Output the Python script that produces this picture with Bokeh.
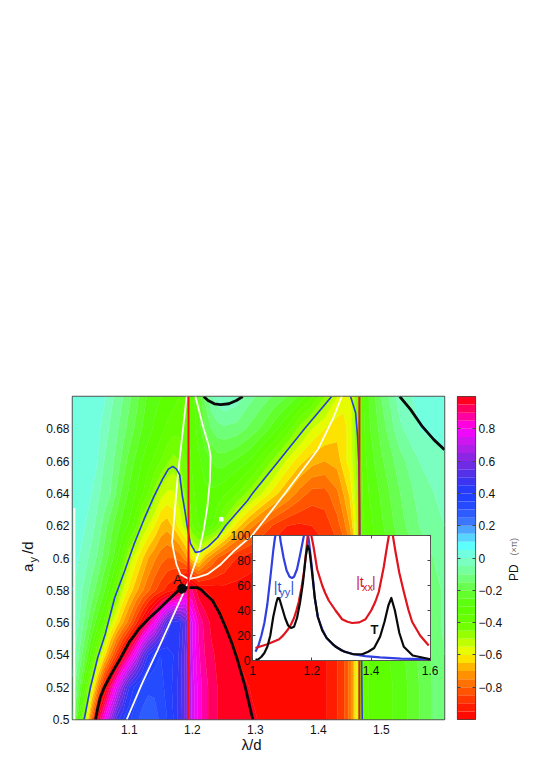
from bokeh.plotting import figure
from bokeh.models import (Range1d, LinearAxis, FixedTicker, CustomJSTickFormatter, Column)
from bokeh.core.properties import value
from bokeh.embed import file_html
from bokeh.resources import INLINE

# ---------- phase-difference field (unwrapped: below -1 reads as PD+2)
COLS = [1.01,1.02,1.03,1.04,1.05,1.06,1.07,1.08,1.09,1.10,1.11,1.12,1.13,1.14,1.15,1.16,1.17,1.18,1.19,1.20,1.21,1.22,1.23,1.24,1.25,
        1.27,1.29,1.31,1.33,1.35,1.37,1.39,1.41,1.43,1.44,1.45,1.455,1.46,1.465,1.47,1.48,1.50,1.53,1.56,1.60]
ROWS = [.50,.52,.54,.56,.58,.60,.62,.64,.66,.68,.70]
R50 = [-.1,-.3,-.52,-.8,-1.05,-1.2,-1.35,-1.52,-1.6,-1.64,-1.68,-1.72,-1.73,-1.72,-1.69,-1.65,-1.6,-1.52,-1.42,-1.28,-1.18,-1.12,-1.08,-1.05,-1.04,
       -1.02,-1.01,-.995,-.99,-.99,-.99,-.98,-.96,-.9,-.86,-.78,-.7,-.6,-.45,-.38,-.35,-.33,-.28,-.2,-.1]
R52 = [-.06,-.18,-.34,-.54,-.75,-.94,-1.1,-1.25,-1.4,-1.55,-1.62,-1.66,-1.69,-1.69,-1.67,-1.63,-1.59,-1.53,-1.42,-1.28,-1.18,-1.12,-1.08,-1.05,-1.04,
       -1.02,-1.0,-.995,-.99,-.99,-.99,-.98,-.96,-.9,-.86,-.78,-.7,-.6,-.45,-.38,-.35,-.33,-.28,-.2,-.1]
R54 = [-.03,-.1,-.2,-.32,-.47,-.62,-.75,-.88,-1.0,-1.12,-1.25,-1.42,-1.55,-1.62,-1.65,-1.63,-1.6,-1.54,-1.42,-1.26,-1.16,-1.1,-1.06,-1.04,-1.03,
       -1.0,-.995,-.99,-.99,-.99,-.99,-.98,-.96,-.9,-.86,-.78,-.7,-.6,-.45,-.38,-.35,-.32,-.27,-.19,-.1]
R56 = [-.01,-.05,-.12,-.2,-.28,-.36,-.53,-.62,-.7,-.78,-.88,-.98,-1.1,-1.2,-1.35,-1.5,-1.58,-1.56,-1.45,-1.25,-1.14,-1.08,-1.04,-1.02,-1.0,
       -.995,-.99,-.99,-.99,-.99,-.98,-.97,-.94,-.88,-.84,-.76,-.7,-.6,-.45,-.36,-.33,-.3,-.25,-.17,-.09]
R58 = [0,-.03,-.07,-.12,-.18,-.24,-.32,-.42,-.55,-.62,-.68,-.74,-.79,-.84,-.88,-.92,-.95,-1.0,-1.12,-1.1,-1.02,-1.0,-.99,-.98,-.97,
       -.97,-.97,-.97,-.97,-.97,-.96,-.95,-.92,-.87,-.83,-.77,-.7,-.6,-.45,-.36,-.33,-.3,-.25,-.17,-.09]
R60 = [.02,0,-.03,-.07,-.11,-.17,-.22,-.28,-.38,-.52,-.58,-.64,-.7,-.74,-.78,-.8,-.8,-.78,-.72,-.62,-.58,-.68,-.74,-.8,-.84,
       -.9,-.93,-.95,-.96,-.96,-.95,-.94,-.92,-.88,-.85,-.8,-.72,-.6,-.45,-.36,-.33,-.28,-.22,-.14,-.07]
R62 = [.03,.02,0,-.03,-.07,-.12,-.18,-.23,-.27,-.31,-.38,-.5,-.55,-.6,-.66,-.68,-.64,-.58,-.52,-.4,-.35,-.32,-.34,-.4,-.48,
       -.62,-.72,-.8,-.86,-.9,-.91,-.9,-.88,-.82,-.77,-.7,-.64,-.55,-.45,-.36,-.32,-.26,-.17,-.1,-.05]
R64 = [.03,.03,.02,0,-.04,-.07,-.1,-.16,-.22,-.26,-.3,-.34,-.4,-.47,-.53,-.56,-.56,-.52,-.44,-.36,-.33,-.31,-.31,-.32,-.34,
       -.39,-.47,-.55,-.63,-.7,-.77,-.82,-.82,-.76,-.7,-.64,-.58,-.52,-.44,-.35,-.3,-.24,-.15,-.08,-.03]
R66 = [.04,.03,.02,.01,0,-.05,-.08,-.12,-.17,-.22,-.26,-.3,-.33,-.36,-.4,-.44,-.47,-.45,-.4,-.34,-.31,-.28,-.25,-.23,-.23,
       -.26,-.3,-.38,-.47,-.56,-.63,-.68,-.7,-.68,-.62,-.58,-.54,-.48,-.42,-.33,-.28,-.21,-.12,-.05,-.01]
R68 = [.05,.04,.03,.02,.01,-.02,-.06,-.09,-.13,-.17,-.21,-.25,-.28,-.31,-.33,-.36,-.38,-.38,-.36,-.33,-.28,-.2,-.15,-.12,-.11,
       -.12,-.16,-.21,-.28,-.36,-.47,-.55,-.6,-.63,-.62,-.58,-.52,-.47,-.4,-.32,-.26,-.18,-.06,0,.02]
R70 = [.05,.04,.03,.03,.02,.01,-.03,-.07,-.1,-.14,-.18,-.22,-.26,-.28,-.3,-.32,-.33,-.35,-.35,-.32,-.25,-.14,-.06,-.02,0,
       -.02,-.08,-.12,-.16,-.2,-.26,-.34,-.45,-.55,-.58,-.58,-.52,-.47,-.4,-.31,-.25,-.15,-.02,.01,.03]
FIELD = [R50,R52,R54,R56,R58,R60,R62,R64,R66,R68,R70]

# ---------- curves on the map
BLUE_L_X = [1.0285,1.0385,1.05,1.062,1.077,1.0927,1.108,1.124,1.139,1.153,1.162,1.169,1.175,1.18,1.184,1.188,1.192,1.197,1.205,1.213,1.225,1.24,1.2527,1.2876,1.2955,1.337,1.378,1.421]
BLUE_L_Y = [.5,.52,.5384,.553,.5755,.592,.609,.6245,.638,.649,.655,.6567,.655,.6515,.639,.63,.6195,.609,.6035,.604,.607,.6127,.62,.6356,.64,.66,.68,.70]
BLUE_R_X = [1.451,1.455,1.459,1.462,1.464,1.465,1.466,1.468,1.4695]
BLUE_R_Y = [.70,.695,.69,.6758,.66,.64,.60,.56,.50]
WHITE1_X = [1.191,1.1765,1.169,1.168,1.17,1.175,1.181,1.194,1.208,1.224,1.245,1.265,1.295,1.345,1.399,1.424,1.437]
WHITE1_Y = [.70,.649,.614,.61,.605,.596,.59,.587,.588,.59,.596,.604,.614,.639,.667,.687,.70]
WHITE2_X = [1.205,1.218,1.226,1.229,1.228,1.224,1.218,1.21,1.197,1.181,1.145,1.12,1.096]
WHITE2_Y = [.70,.68,.67,.663,.648,.632,.617,.603,.588,.574,.543,.522,.50]
WHITE3_X = [1.013,1.013]
WHITE3_Y = [.631,.50]
DOME_X = [1.0465,1.05,1.054,1.06,1.07,1.078,1.086,1.10,1.108,1.116,1.125,1.135,1.145,1.153,1.162,1.17,1.177,1.184,1.19,1.195,1.208,1.215,1.22,1.232,1.243,1.253,1.263,1.272,1.284,1.29,1.296]
DOME_Y = [.5,.507,.5136,.5195,.527,.5325,.5378,.548,.552,.5564,.56,.564,.5675,.5706,.574,.577,.5795,.581,.5817,.5817,.5817,.58,.578,.5737,.566,.557,.547,.5365,.52,.51,.5]
ARC_X = [1.218,1.225,1.235,1.245,1.258,1.27,1.28]
ARC_Y = [.70,.6975,.6955,.695,.6955,.6975,.70]
CORNER_X = [1.529,1.546,1.565,1.583,1.6]
CORNER_Y = [.70,.692,.6813,.6733,.667]
RED_LINES = [1.194,1.465]
POINT_A = (1.1835,.581)
WHITE_DOT = (1.246,.624)

# ---------- inset spectra
TYY_X = [1.01,1.02,1.03,1.04,1.05,1.06,1.07,1.075,1.08,1.09,1.095,1.105,1.115,1.125,1.133,1.14,1.15,1.16,1.17,1.175,1.185,1.19,1.2,1.21,1.22,1.235,1.25,1.27,1.3,1.34,1.38,1.43,1.5,1.6]
TYY_Y = [7,12,20,30,45,66,88,97,104,104,95,82,72,67,66,67,73,84,96,102,104,96,75,50,35,25,18,13,8,5,3.5,2.5,1.5,1]
TXX_X = [1.01,1.05,1.09,1.105,1.12,1.13,1.14,1.148,1.156,1.165,1.173,1.18,1.186,1.195,1.205,1.218,1.235,1.245,1.257,1.28,1.302,1.32,1.336,1.36,1.381,1.40,1.414,1.4258,1.4426,1.454,1.462,1.471,1.482,1.495,1.51,1.525,1.538,1.565,1.594]
TXX_Y = [10,13,17,20.5,25,29,34,40,47,58,70,85,100,104,92,73,60,54,48,40,33,31,30,30.5,33,40,47,55,75,92,103,103,87,70,55,41,31,20,12]
T_X = [1.01,1.02,1.03,1.04,1.05,1.06,1.07,1.08,1.085,1.09,1.10,1.11,1.12,1.13,1.14,1.15,1.16,1.17,1.18,1.186,1.192,1.2,1.21,1.22,1.235,1.25,1.28,1.31,1.34,1.37,1.39,1.41,1.43,1.445,1.458,1.468,1.48,1.495,1.51,1.54,1.6]
T_Y = [.5,1,3,6,11,20,35,46,50,50,42,34,28,26,27,34,46,62,84,92,88,72,50,35,24,18,11,7,5,5,7,10,19,31,44,50,40,22,11,4,1]
YTICKS = [.5,.52,.54,.56,.58,.6,.62,.64,.66,.68]
XTICKS = [1.1,1.2,1.3,1.4,1.5]
INSET_XTICKS = [1,1.2,1.4,1.6]
INSET_YTICKS = [0,20,40,60,80,100]
CB_TICKS = [-.8,-.6,-.4,-.2,0,.2,.4,.6,.8]

# ---------- colour map, PD -> rgb
ANCHORS = [(-1.0,(255,0,0)),(-.92,(255,30,0)),(-.85,(255,70,0)),(-.78,(255,110,0)),(-.7,(255,160,0)),(-.65,(255,205,0)),(-.6,(250,250,0)),
           (-.55,(215,255,0)),(-.5,(170,255,0)),(-.42,(110,255,0)),(-.3,(90,255,0)),(-.2,(100,255,60)),(-.1,(115,255,140)),(0,(125,255,210)),
           (.08,(90,255,255)),(.15,(85,190,255)),(.22,(60,120,255)),(.3,(40,80,255)),(.4,(30,60,255)),(.5,(70,50,235)),(.6,(125,40,225)),
           (.7,(190,30,235)),(.8,(255,0,255)),(.9,(255,0,130)),(1.0,(255,0,0))]

def pd_colour(pd):
    for (a, ca), (b, cb_) in zip(ANCHORS, ANCHORS[1:]):
        if a <= pd <= b:
            t = (pd - a) / (b - a)
            c = [round(u + (w - u) * t) for u, w in zip(ca, cb_)]
            return "#%02x%02x%02x" % tuple(c)
    return "#ff0000"

STEP = 0.05
FONT = "Liberation Sans"
LEFT_BORDER = 72   # a Column lines up the frames of its figures, so all of them share it

# ---------- main map
levels = [round(-1.8 + i * STEP, 3) for i in range(39)]   # -1.8 ... 0.1
band_colours = []
for lo, hi in zip(levels, levels[1:]):
    mid = (lo + hi) / 2
    band_colours.append(pd_colour(mid + 2 if mid < -1 else mid))
line_colours = band_colours + [band_colours[-1]]

p = figure(frame_width=372, frame_height=323, min_border_left=LEFT_BORDER, min_border_top=396, min_border_right=60, min_border_bottom=40,
           x_range=Range1d(1.01, 1.6), y_range=Range1d(.5, .7), toolbar_location=None, output_backend="svg",
           outline_line_color="#555555", outline_line_width=1.5)
p.grid.visible = False
p.contour(COLS, ROWS, FIELD, levels, fill_color=band_colours, line_color=line_colours, line_width=0.6)

p.xaxis.ticker = FixedTicker(ticks=XTICKS)
p.yaxis.ticker = FixedTicker(ticks=YTICKS)
for ax in (p.xaxis[0], p.yaxis[0]):
    ax.axis_line_color = None
    ax.major_tick_in = 0
    ax.major_tick_out = 0
    ax.major_tick_line_color = None
    ax.minor_tick_line_color = None
    ax.major_label_text_font = FONT
    ax.major_label_text_font_size = "12px"
    ax.major_label_text_color = "#111111"
p.xaxis.major_label_standoff = 5
p.yaxis.major_label_standoff = 3

for xs, ys in [(WHITE1_X, WHITE1_Y), (WHITE2_X, WHITE2_Y), (WHITE3_X, WHITE3_Y)]:
    p.line(xs, ys, line_color="#fdfdf0", line_width=1.8)
for xs, ys in [(BLUE_L_X, BLUE_L_Y), (BLUE_R_X, BLUE_R_Y)]:
    p.line(xs, ys, line_color="#2540d8", line_width=1.6)
for xs, ys in [(DOME_X, DOME_Y), (ARC_X, ARC_Y), (CORNER_X, CORNER_Y)]:
    p.line(xs, ys, line_color="#0a0a0a", line_width=2.8)
for x in RED_LINES:
    p.line([x, x], [.5, .7], line_color="#f5101c", line_width=2)
p.scatter([POINT_A[0]], [POINT_A[1]], size=9, color="#0a0a0a")
p.scatter([WHITE_DOT[0]], [WHITE_DOT[1]], size=3.5, marker="square", color="white")
p.text([1.1765], [.5865], text=["A"], text_font=value(FONT), text_font_size="13px", text_align="center", text_baseline="middle", text_color="#111111")

# ---------- inset
ins = figure(frame_width=178, frame_height=125, min_border_left=LEFT_BORDER, min_border_top=5, min_border_right=8, min_border_bottom=22,
             x_range=Range1d(1, 1.6), y_range=Range1d(0, 100), toolbar_location=None, output_backend="svg",
             background_fill_color="white", border_fill_alpha=0, outline_line_color="#555555", outline_line_width=1,
             styles={"position": "absolute", "left": "180px", "top": "530px"})
ins.grid.visible = False
ins.line(TYY_X, TYY_Y, line_color="#2f3fe0", line_width=2.2, line_join="round")
ins.line(TXX_X, TXX_Y, line_color="#e0141e", line_width=2.2, line_join="round")
ins.line(T_X, T_Y, line_color="#0a0a0a", line_width=2.2, line_join="round")
ins.xaxis.ticker = FixedTicker(ticks=INSET_XTICKS)
ins.yaxis.ticker = FixedTicker(ticks=INSET_YTICKS)
ins.xaxis.major_label_overrides = {1: "1", 1.2: "1.2", 1.4: "1.4", 1.6: "1.6"}
blank = CustomJSTickFormatter(code="return ''")
ins.add_layout(LinearAxis(ticker=FixedTicker(ticks=INSET_XTICKS), formatter=blank), "above")
ins.add_layout(LinearAxis(ticker=FixedTicker(ticks=INSET_YTICKS), formatter=blank), "right")
for ax in ins.axis:
    ax.axis_line_color = None
    ax.major_tick_in = 3
    ax.major_tick_out = 0
    ax.major_tick_line_color = "#444444"
    ax.minor_tick_line_color = None
    ax.major_label_text_font = FONT
    ax.major_label_text_font_size = "12px"
    ax.major_label_text_color = "#111111"
ins.xaxis[0].major_label_standoff = 0
ins.yaxis[0].major_label_standoff = 2

def add_text(fig, x, y, text, size, color, style="normal", angle=0.0, baseline="alphabetic", align="left"):
    fig.text([x], [y], text=[text], text_font=value(FONT), text_font_size=size, text_color=color,
             text_baseline=baseline, text_font_style=style, angle=angle, angle_units="deg", text_align=align)

add_text(ins, 1.072, 59, "|t", "14px", "#2f4fc8")
add_text(ins, 1.0905, 55, "yy", "11px", "#2f4fc8")
add_text(ins, 1.128, 59, "|", "14px", "#2f4fc8")
add_text(ins, 1.3494, 63, "|t", "14px", "#d02030")
add_text(ins, 1.369, 59, "xx", "11px", "#d02030")
add_text(ins, 1.403, 63, "|", "14px", "#d02030")
add_text(ins, 1.398, 25, "T", "13px", "#111111", "bold")

# ---------- colour bar
pd_edges = [round(-1 + i * STEP, 3) for i in range(41)]
cb = figure(frame_width=18, frame_height=323, min_border_left=LEFT_BORDER, min_border_top=2, min_border_right=60, min_border_bottom=4,
            x_range=Range1d(0, 1), y_range=Range1d(-1, 1), y_axis_location="right", x_axis_location=None,
            toolbar_location=None, output_backend="svg", outline_line_color="#444444", outline_line_width=1.2,
            border_fill_alpha=0, styles={"position": "absolute", "left": "385px", "top": "394px"})
cb.grid.visible = False
cb.quad(left=0, right=1, bottom=pd_edges[:-1], top=pd_edges[1:],
        fill_color=[pd_colour((a + b) / 2) for a, b in zip(pd_edges, pd_edges[1:])], line_color=None)
cb.yaxis.ticker = FixedTicker(ticks=CB_TICKS)
cb.add_layout(LinearAxis(ticker=FixedTicker(ticks=CB_TICKS), formatter=blank), "left")
for ax in cb.yaxis:
    ax.axis_line_color = None
    ax.major_tick_in = 3
    ax.major_tick_out = 0
    ax.major_tick_line_color = "#444444"
    ax.minor_tick_line_color = None
    ax.major_label_text_font = FONT
    ax.major_label_text_font_size = "12px"
    ax.major_label_text_color = "#111111"
    ax.major_label_standoff = 3

# ---------- axis titles: see-through figures over the page, their ranges in page pixels
def title_box(left, width):
    fig = figure(frame_width=width, frame_height=760, min_border_left=0, min_border_top=0, min_border_right=0, min_border_bottom=0,
                 x_range=Range1d(left, left + width), y_range=Range1d(760, 0), x_axis_location=None, y_axis_location=None,
                 toolbar_location=None, output_backend="svg", outline_line_color=None, background_fill_alpha=0, border_fill_alpha=0)
    fig.grid.visible = False
    box = Column(children=[fig], styles={"position": "absolute", "left": f"{left}px", "top": "0px"})
    return fig, box

over, over_box = title_box(0, 300)
add_text(over, 251, 745, "λ/d", "15px", "#111111", baseline="middle", align="center")
add_text(over, 27, 568, "a", "15px", "#111111", angle=90, baseline="middle", align="center")
add_text(over, 32, 560, "y", "11px", "#111111", angle=90, baseline="middle", align="center")
add_text(over, 27, 548, "/d", "15px", "#111111", angle=90, baseline="middle", align="center")
over2, over2_box = title_box(495, 35)
add_text(over2, 513, 573, "PD", "12px", "#111111", angle=90, baseline="middle", align="center")
add_text(over2, 513, 547, "(×π)", "9px", "#666666", angle=90, baseline="middle", align="center")

root = Column(children=[p, ins, cb, over_box, over2_box], styles={"position": "relative"})
open("out.html", "w").write(file_html(root, INLINE))
